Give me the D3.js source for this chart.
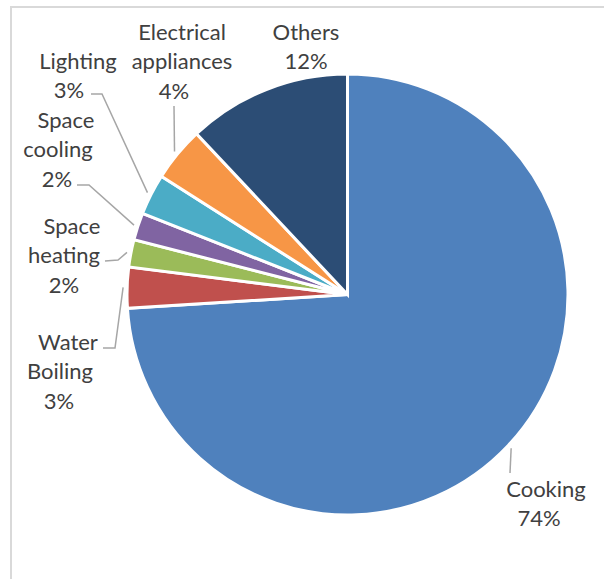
<!DOCTYPE html>
<html>
<head>
<meta charset="utf-8">
<script src="https://cdn.jsdelivr.net/npm/d3@7/dist/d3.min.js"></script>
<style>
  html, body { margin: 0; padding: 0; background: #fff; }
  svg { display: block; }
</style>
</head>
<body>
<svg id="chart" width="604" height="579"></svg>
<script>
// Household energy use by end use (share, %)
const categories = ["Cooking", "Water Boiling", "Space heating", "Space cooling", "Lighting", "Electrical appliances", "Others"];
const shares = [74, 3, 2, 2, 3, 4, 12];
const colors = ["#4F81BD", "#C0504D", "#9BBB59", "#8064A2", "#4BACC6", "#F79646", "#2C4D75"];
const labelLines = [
  ["Cooking"],
  ["Water", "Boiling"],
  ["Space", "heating"],
  ["Space", "cooling"],
  ["Lighting"],
  ["Electrical", "appliances"],
  ["Others"]
];

// Label placement: x of each line centre, baseline of first line, and leader-line bends
const labelLayout = [
  { xs: [546, 539], y: 497, path: [[510, 473]] },
  { xs: [68, 60, 59], y: 350, path: [[115, 348], [103, 348]] },
  { xs: [72, 64, 64], y: 234, path: [[118, 260], [105, 261]] },
  { xs: [66, 58, 57], y: 128, path: [[89, 185], [77, 185]] },
  { xs: [78, 69], y: 69, path: [[102, 94], [91, 94]] },
  { xs: [182, 182, 174], y: 40, path: [[174, 106]] },
  { xs: [306, 306], y: 40, path: null }
];

const cx = 347.5, cy = 294.5, radius = 220.5;
const lineGap = 29.3;

const svg = d3.select("#chart");

// chart frame
svg.append("rect")
  .attr("x", 11).attr("y", 7)
  .attr("width", 700).attr("height", 700)
  .attr("fill", "none")
  .attr("stroke", "#D9D9D9")
  .attr("stroke-width", 2);

const pie = d3.pie().sort(null).value(d => d).startAngle(0).endAngle(2 * Math.PI);
const arcs = pie(shares);
const arc = d3.arc().innerRadius(0).outerRadius(radius);
const leaderArc = d3.arc().innerRadius(radius + 4).outerRadius(radius + 4);

const g = svg.append("g").attr("transform", `translate(${cx},${cy})`);

g.selectAll("path.slice")
  .data(arcs)
  .join("path")
  .attr("class", "slice")
  .attr("d", arc)
  .attr("fill", (d, i) => colors[i])
  .attr("stroke", "#fff")
  .attr("stroke-width", 3)
  .attr("stroke-linejoin", "miter");

// leader lines from slice edge to label
const line = d3.line();
arcs.forEach((d, i) => {
  const lay = labelLayout[i];
  if (!lay.path) return;
  const [sx, sy] = leaderArc.centroid(d);
  const pts = [[sx + cx, sy + cy], ...lay.path];
  svg.append("path")
    .attr("d", line(pts))
    .attr("fill", "none")
    .attr("stroke", "#A6A6A6")
    .attr("stroke-width", 1.5);
});

// data labels: name lines followed by the share
arcs.forEach((d, i) => {
  const lay = labelLayout[i];
  const lines = [...labelLines[i], `${shares[i]}%`];
  lines.forEach((t, k) => {
    svg.append("text")
      .attr("x", lay.xs[k])
      .attr("y", lay.y + k * lineGap)
      .attr("text-anchor", "middle")
      .attr("font-family", "Lato, 'Open Sans', sans-serif")
      .attr("font-size", 22)
      .attr("fill", "#404040")
      .text(t);
  });
});
</script>
</body>
</html>
